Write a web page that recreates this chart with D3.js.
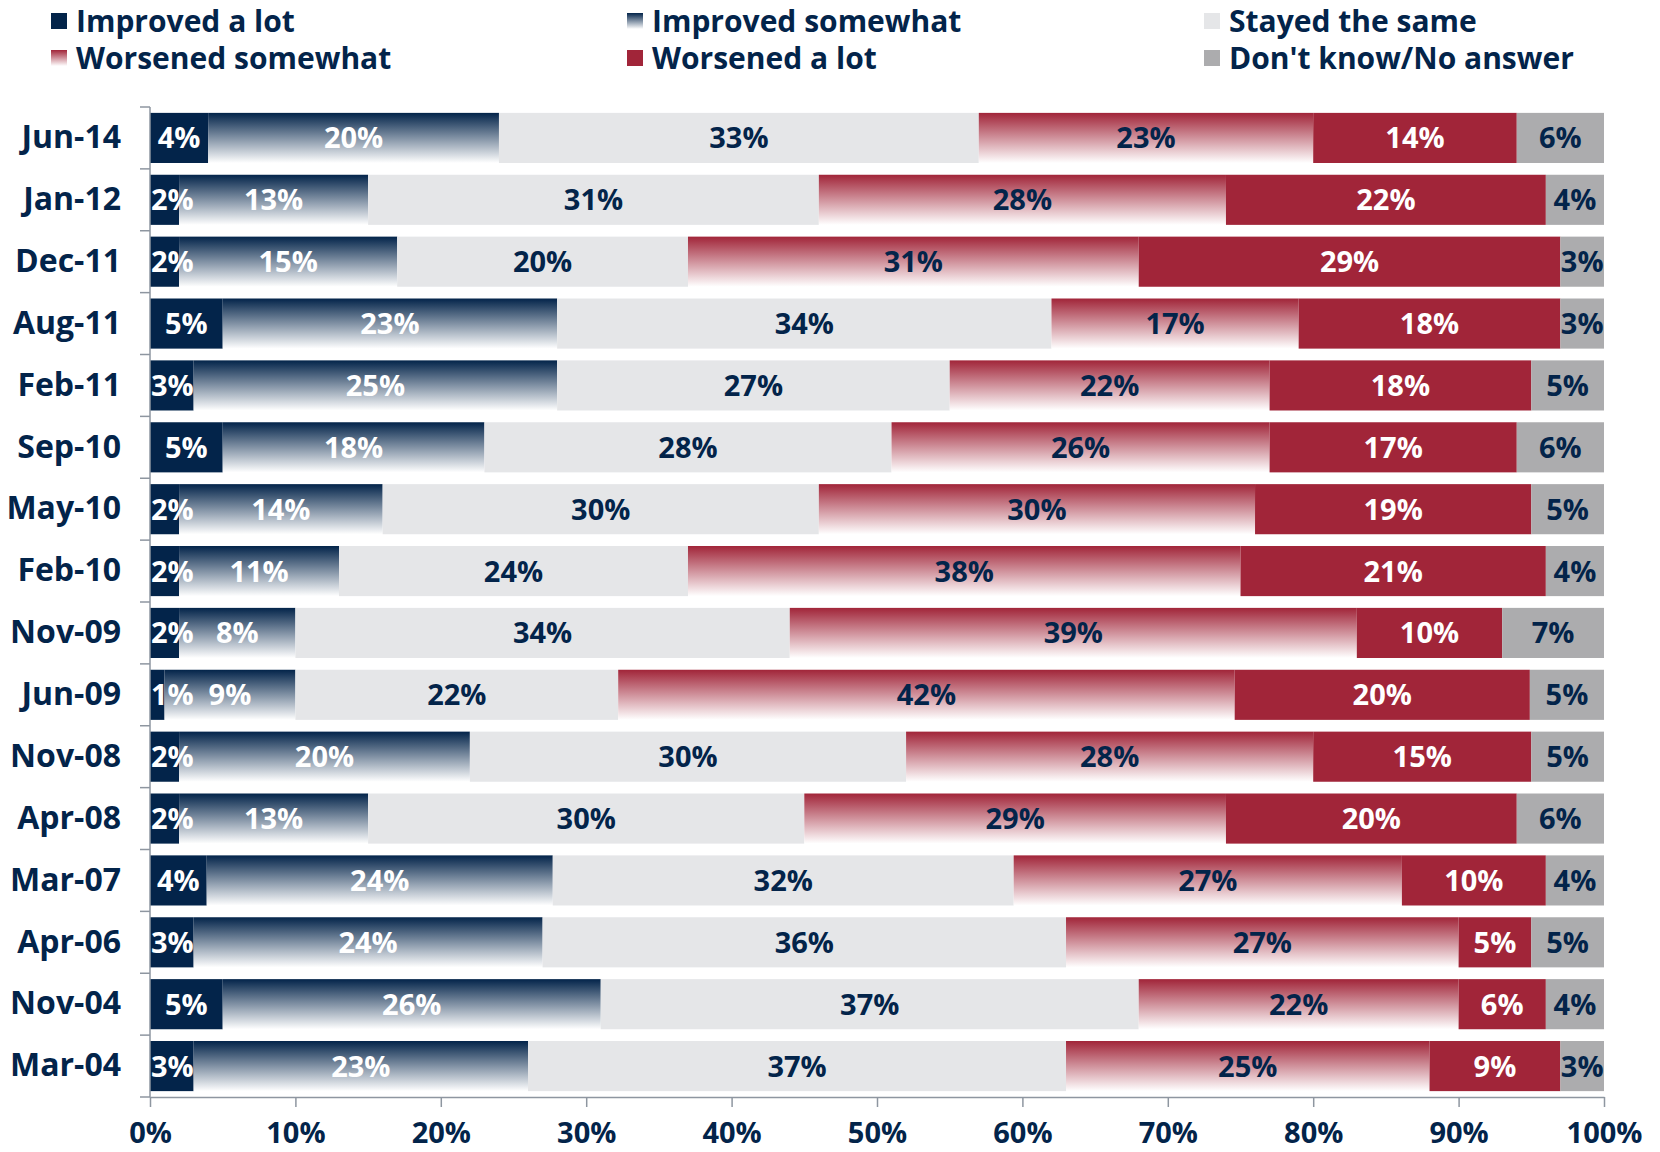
<!DOCTYPE html>
<html>
<head>
<meta charset="utf-8">
<title>Change in situation</title>
<script src="https://cdn.jsdelivr.net/npm/d3@7"></script>
<style>
  body { margin: 0; background: #fff; }
  text { font-family: 'Open Sans', sans-serif; font-weight: 700; }
</style>
</head>
<body>
<script>
const categories = ['Jun-14', 'Jan-12', 'Dec-11', 'Aug-11', 'Feb-11', 'Sep-10', 'May-10', 'Feb-10',
                    'Nov-09', 'Jun-09', 'Nov-08', 'Apr-08', 'Mar-07', 'Apr-06', 'Nov-04', 'Mar-04'];

const improvedALot      = [4, 2, 2, 5, 3, 5, 2, 2, 2, 1, 2, 2, 3.9, 3, 5, 3];
const improvedSomewhat  = [20, 13, 15, 23, 25, 18, 14, 11, 8, 9, 20, 13, 23.8, 24, 26, 23];
const stayedTheSame     = [33, 31, 20, 34, 27, 28, 30, 24, 34, 22.2, 30, 30, 31.7, 36, 37, 37];
const worsenedSomewhat  = [23, 28, 31, 17, 22, 26, 30, 38, 39, 42.4, 28, 29, 26.7, 27, 22, 25];
const worsenedALot      = [14, 22, 29, 18, 18, 17, 19, 21, 10, 20.3, 15, 20, 9.9, 5, 6, 9];
const dontKnow          = [6, 4, 3, 3, 5, 6, 5, 4, 7, 5.1, 5, 6, 4, 5, 4, 3];

const seriesNames = ['Improved a lot', 'Improved somewhat', 'Stayed the same',
                     'Worsened somewhat', 'Worsened a lot', "Don't know/No answer"];
const xTicks = [0, 10, 20, 30, 40, 50, 60, 70, 80, 90, 100];

const NAVY = '#03244a';
const RED = '#a12539';
const AXIS = '#8e96a0';
const fills = ['#03244a', 'url(#gradBlue)', '#e5e6e8', 'url(#gradRed)', '#a12539', '#acacae'];
const labelColors = ['#fff', '#fff', NAVY, NAVY, '#fff', NAVY];

const width = 1660;
const height = 1152;
const plotLeft = 150;
const plotRight = 1604;
const plotTop = 107;
const plotBottom = 1097;

document.addEventListener('DOMContentLoaded', function() {
  const svg = d3.select('body')
                .append('svg')
                .attr('width', width)
                .attr('height', height);

  addGradients(svg);

  const seriesValues = [improvedALot, improvedSomewhat, stayedTheSame, worsenedSomewhat, worsenedALot, dontKnow];
  const keys = seriesValues.map((s, i) => 's' + i);
  const rows = categories.map((c, j) => {
    const row = { cat: c };
    keys.forEach((k, i) => { row[k] = seriesValues[i][j]; });
    return row;
  });
  const stacked = d3.stack().keys(keys)(rows);

  const xScale = d3.scaleLinear()
                   .domain([0, 100])
                   .range([plotLeft, plotRight]);

  const yScale = d3.scaleBand()
                   .domain(categories)
                   .range([plotTop, plotBottom])
                   .paddingInner(0.19)
                   .paddingOuter(0.095);

  // bars
  const groups = svg.selectAll('g.series')
                    .data(stacked)
                    .enter()
                    .append('g')
                    .attr('class', 'series')
                    .attr('fill', (d, i) => fills[i]);

  groups.selectAll('rect')
        .data((d) => d)
        .enter()
        .append('rect')
        .attr('x', (d) => xScale(d[0]))
        .attr('y', (d) => yScale(d.data.cat))
        .attr('width', (d) => xScale(d[1]) - xScale(d[0]))
        .attr('height', yScale.bandwidth());

  // value labels, kept inside the plot on the left
  stacked.forEach((s, i) => {
    svg.append('g')
       .selectAll('text')
       .data(s)
       .enter()
       .append('text')
       .attr('y', (d) => yScale(d.data.cat) + yScale.bandwidth() / 2)
       .attr('dy', '0.36em')
       .attr('text-anchor', 'middle')
       .style('font-size', '29px')
       .attr('fill', labelColors[i])
       .text((d) => Math.round(d[1] - d[0]) + '%')
       .attr('x', function(d) {
         const half = this.getComputedTextLength() / 2;
         const mid = (xScale(d[0]) + xScale(d[1])) / 2;
         return Math.max(mid, plotLeft + half + 1);
       });
  });

  // y axis: line, ticks between the bars, category labels
  const step = yScale.step();
  const boundaries = d3.range(categories.length + 1).map((i) => plotTop + i * step);
  const yAxisG = svg.append('g').attr('class', 'y-axis');
  yAxisG.append('line')
        .attr('x1', plotLeft).attr('x2', plotLeft)
        .attr('y1', plotTop).attr('y2', plotBottom)
        .attr('stroke', AXIS).attr('stroke-width', 1.5);
  yAxisG.selectAll('line.tick')
        .data(boundaries)
        .enter()
        .append('line')
        .attr('class', 'tick')
        .attr('x1', plotLeft - 10).attr('x2', plotLeft)
        .attr('y1', (d) => d).attr('y2', (d) => d)
        .attr('stroke', AXIS).attr('stroke-width', 1.5);

  const yAxis = d3.axisLeft(yScale).tickSize(0).tickPadding(29);
  svg.append('g')
     .attr('transform', 'translate(' + plotLeft + ', 0)')
     .call(yAxis)
     .call((g) => g.select('.domain').remove())
     .selectAll('text')
     .style('font-size', '32px')
     .style('font-family', "'Open Sans', sans-serif")
     .style('font-weight', 700)
     .attr('fill', NAVY);

  // x axis
  const xAxis = d3.axisBottom(xScale)
                  .tickValues(xTicks)
                  .tickSize(10)
                  .tickSizeOuter(0)
                  .tickPadding(15)
                  .tickFormat((d) => d + '%');
  const xAxisG = svg.append('g')
                    .attr('transform', 'translate(0, ' + plotBottom + ')')
                    .call(xAxis);
  xAxisG.selectAll('path, line').attr('stroke', AXIS).attr('stroke-width', 1.5);
  xAxisG.selectAll('text')
        .style('font-size', '29px')
        .style('font-family', "'Open Sans', sans-serif")
        .style('font-weight', 700)
        .attr('fill', NAVY);

  createLegend(svg);
});

const addGradients = (svg) => {
  const defs = svg.append('defs');
  [['gradBlue', NAVY], ['gradRed', RED]].forEach(([id, color]) => {
    const g = defs.append('linearGradient')
                  .attr('id', id)
                  .attr('x1', 0).attr('y1', 0)
                  .attr('x2', 0).attr('y2', 1);
    g.append('stop').attr('offset', '0%').attr('stop-color', color);
    g.append('stop').attr('offset', '100%').attr('stop-color', '#ffffff');
  });
};

const createLegend = (svg) => {
  const colX = [51, 627, 1204];
  const rowY = [21, 58];
  const legend = svg.append('g').attr('class', 'legend');
  seriesNames.forEach((name, k) => {
    const x = colX[k % 3];
    const y = rowY[Math.floor(k / 3)];
    legend.append('rect')
          .attr('x', x).attr('y', y - 8)
          .attr('width', 16).attr('height', 16)
          .attr('fill', fills[k]);
    legend.append('text')
          .attr('x', x + 25).attr('y', y)
          .attr('dy', '0.36em')
          .style('font-size', '30px')
          .attr('fill', NAVY)
          .text(name);
  });
};
</script>
</body>
</html>
